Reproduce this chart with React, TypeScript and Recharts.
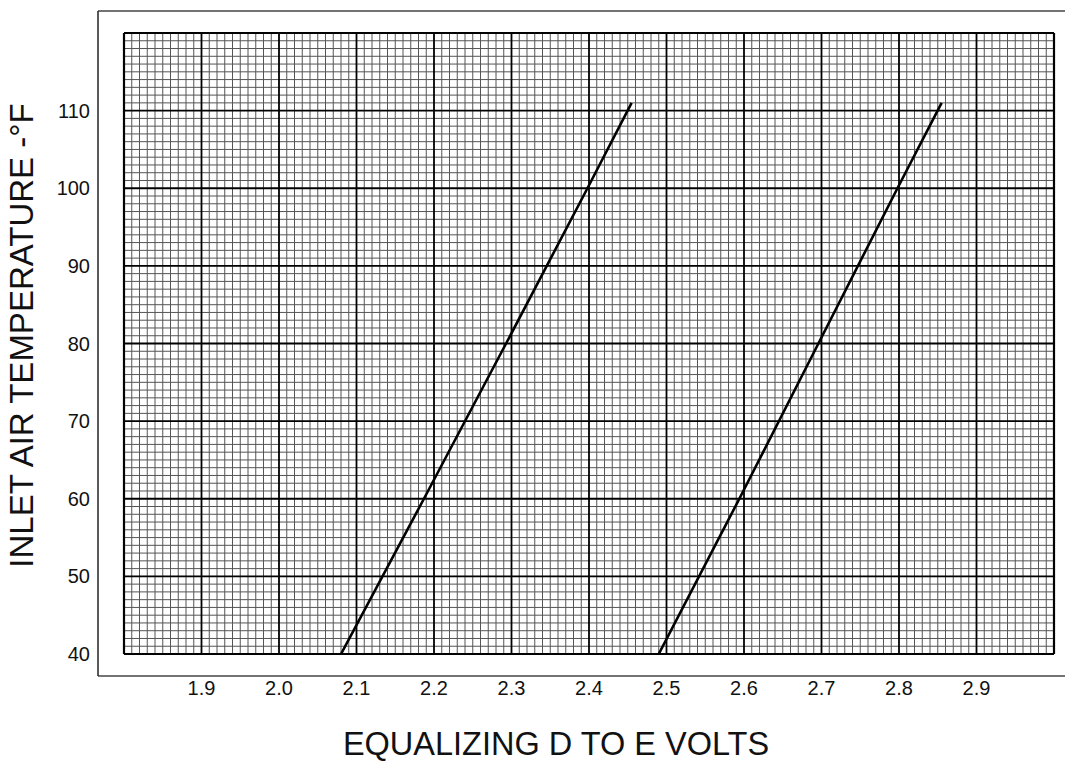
import React from 'react';
import { ComposedChart, Line, XAxis, YAxis, ReferenceLine, Label } from 'recharts';

// volts (x) against inlet air temperature (y)
const xTicks = [1.9, 2.0, 2.1, 2.2, 2.3, 2.4, 2.5, 2.6, 2.7, 2.8, 2.9];
const yTicks = [40, 50, 60, 70, 80, 90, 100, 110];

const lowCurve = [
  { v: 2.08, t: 40 },
  { v: 2.187, t: 60 },
  { v: 2.293, t: 80 },
  { v: 2.398, t: 100 },
  { v: 2.455, t: 111 },
];

const highCurve = [
  { v: 2.49, t: 40 },
  { v: 2.594, t: 60 },
  { v: 2.696, t: 80 },
  { v: 2.798, t: 100 },
  { v: 2.855, t: 111 },
];

const X_MIN = 1.8;
const X_MAX = 3.0;
const Y_MIN = 40;
const Y_MAX = 120;

const FONT = '"Liberation Sans", Arial, Helvetica, sans-serif';

// graph paper: 10 minor divisions per major cell
const minorX: number[] = [];
const majorX: number[] = [];
for (let i = 180; i <= 300; i++) {
  if (i % 10 === 0) majorX.push(i / 100);
  else minorX.push(i / 100);
}
const minorY: number[] = [];
const majorY: number[] = [];
for (let j = Y_MIN; j <= Y_MAX; j++) {
  if (j % 10 === 0) majorY.push(j);
  else minorY.push(j);
}

const XTick = (props: any) => {
  const { x, y, payload } = props;
  return (
    <text x={x} y={y + 14} textAnchor="middle" fontSize={20} fontFamily={FONT} fill="#111">
      {Number(payload.value).toFixed(1)}
    </text>
  );
};

const YTick = (props: any) => {
  const { x, y, payload } = props;
  return (
    <text x={x} y={y + 7} textAnchor="end" fontSize={20} fontFamily={FONT} fill="#111">
      {payload.value}
    </text>
  );
};

const YTitle = (props: any) => {
  const vb = props.viewBox;
  const x = vb.x + 33;
  const y = vb.y + vb.height / 2 - 8;
  return (
    <text
      x={x}
      y={y}
      transform={`rotate(-90, ${x}, ${y})`}
      textAnchor="middle"
      fontSize={33}
      fontFamily={FONT}
      fill="#111"
    >
      INLET AIR TEMPERATURE -°F
    </text>
  );
};

const XTitle = (props: any) => {
  const vb = props.viewBox;
  return (
    <text
      x={vb.x + 458}
      y={vb.y + 79}
      textAnchor="middle"
      fontSize={32.5}
      fontFamily={FONT}
      fill="#111"
    >
      EQUALIZING D TO E VOLTS
    </text>
  );
};

export default function App() {
  return (
    <div style={{ position: 'absolute', left: 0, top: 0, background: '#fff' }}>
      <ComposedChart width={1065} height={765} margin={{ top: 10, right: 0, bottom: 0, left: 0 }}>
        <XAxis
          type="number"
          dataKey="v"
          domain={[X_MIN, X_MAX]}
          ticks={xTicks}
          allowDataOverflow
          padding={{ left: 26, right: 11 }}
          height={89}
          tickLine={false}
          tickSize={0}
          tickMargin={5}
          tick={<XTick />}
          axisLine={{ stroke: '#444', strokeWidth: 1.5 }}
        >
          <Label content={<XTitle />} />
        </XAxis>
        <XAxis
          xAxisId="top"
          orientation="top"
          type="number"
          domain={[X_MIN, X_MAX]}
          padding={{ left: 26, right: 11 }}
          height={1}
          tick={false}
          tickLine={false}
          axisLine={{ stroke: '#444', strokeWidth: 1.5 }}
        />
        <YAxis
          type="number"
          domain={[Y_MIN, Y_MAX]}
          ticks={yTicks}
          allowDataOverflow
          padding={{ top: 22, bottom: 22 }}
          width={98}
          tickLine={false}
          tickSize={0}
          tickMargin={8}
          tick={<YTick />}
          axisLine={{ stroke: '#222', strokeWidth: 1.5 }}
        >
          <Label content={<YTitle />} />
        </YAxis>

        {minorX.map((x) => (
          <ReferenceLine
            key={`mx-${x}`}
            segment={[{ x, y: Y_MIN }, { x, y: Y_MAX }]}
            stroke="#555"
            strokeWidth={1}
          />
        ))}
        {minorY.map((y) => (
          <ReferenceLine
            key={`my-${y}`}
            segment={[{ x: X_MIN, y }, { x: X_MAX, y }]}
            stroke="#555"
            strokeWidth={1}
          />
        ))}
        {majorX.map((x) => (
          <ReferenceLine
            key={`Mx-${x}`}
            segment={[{ x, y: Y_MIN }, { x, y: Y_MAX }]}
            stroke="#000"
            strokeWidth={x === X_MIN || x === X_MAX ? 2.2 : 1.8}
          />
        ))}
        {majorY.map((y) => (
          <ReferenceLine
            key={`My-${y}`}
            segment={[{ x: X_MIN, y }, { x: X_MAX, y }]}
            stroke="#000"
            strokeWidth={y === Y_MIN || y === Y_MAX ? 2.2 : 1.8}
          />
        ))}

        <Line
          data={lowCurve}
          dataKey="t"
          type="linear"
          stroke="#000"
          strokeWidth={2.6}
          dot={false}
          activeDot={false}
          isAnimationActive={false}
        />
        <Line
          data={highCurve}
          dataKey="t"
          type="linear"
          stroke="#000"
          strokeWidth={2.6}
          dot={false}
          activeDot={false}
          isAnimationActive={false}
        />
      </ComposedChart>
    </div>
  );
}
